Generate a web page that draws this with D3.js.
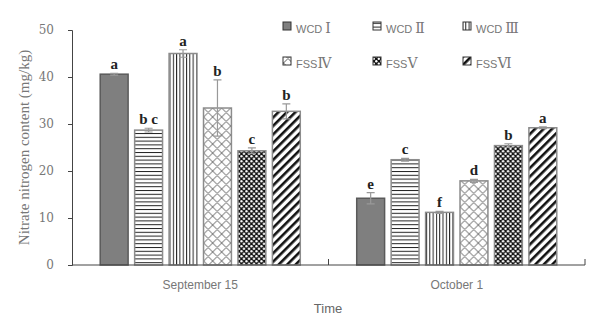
<!DOCTYPE html>
<html>
<head>
<meta charset="utf-8">
<script src="https://cdn.jsdelivr.net/npm/d3@7"></script>
<style>
  body { margin: 0; background: #fff; }
  svg { display: block; }
</style>
</head>
<body>
<script>
// chart data
var dates = ['September 15', 'October 1'];
var treatments = ['WCD \u2160', 'WCD \u2161', 'WCD \u2162', 'FSS\u2163', 'FSS\u2164', 'FSS\u2165'];
var values = [
    [40.6, 28.7, 45.0, 33.4, 24.3, 32.7],
    [14.2, 22.4, 11.2, 17.9, 25.4, 29.2]
];
var errors = [
    [0.2, 0.4, 0.8, 6.0, 0.6, 1.6],
    [1.2, 0.3, 0.2, 0.3, 0.4, 0.2]
];
var letters = [
    ['a', 'b c', 'a', 'b', 'c', 'b'],
    ['e', 'c', 'f', 'd', 'b', 'a']
];
var yTicks = [0, 10, 20, 30, 40, 50];

var width = 589, height = 316;
// plot area (window.top is reserved, so use own names)
var pLeft = 72, pRight = 585, pTop = 30, pBottom = 265;

var svg = d3.select('body').append('svg')
    .attr('width', width)
    .attr('height', height);

// patterns for the bars
var defs = svg.append('defs');

var p = defs.append('pattern').attr('id', 'p1')
    .attr('patternUnits', 'userSpaceOnUse').attr('width', 8).attr('height', 3.8);
p.append('rect').attr('width', 8).attr('height', 3.8).attr('fill', '#fff');
p.append('rect').attr('y', 0).attr('width', 8).attr('height', 1).attr('fill', '#222');

p = defs.append('pattern').attr('id', 'p2')
    .attr('patternUnits', 'userSpaceOnUse').attr('width', 3.3).attr('height', 8);
p.append('rect').attr('width', 3.3).attr('height', 8).attr('fill', '#fff');
p.append('rect').attr('x', 0).attr('width', 1).attr('height', 8).attr('fill', '#222');

p = defs.append('pattern').attr('id', 'p3')
    .attr('patternUnits', 'userSpaceOnUse').attr('width', 9).attr('height', 9);
p.append('rect').attr('width', 9).attr('height', 9).attr('fill', '#fff');
p.append('path').attr('d', 'M0,4.5 L4.5,0 L9,4.5 M0,4.5 L4.5,9 L9,4.5 M4.5,0 L9,-4.5 M4.5,9 L0,13.5')
    .attr('stroke', '#333').attr('stroke-width', 0.8).attr('fill', 'none');

p = defs.append('pattern').attr('id', 'p4')
    .attr('patternUnits', 'userSpaceOnUse').attr('width', 5).attr('height', 5);
p.append('rect').attr('width', 5).attr('height', 5).attr('fill', '#111');
p.append('circle').attr('cx', 1.3).attr('cy', 1.3).attr('r', 1.2).attr('fill', '#fff');
p.append('circle').attr('cx', 3.8).attr('cy', 3.8).attr('r', 1.2).attr('fill', '#fff');

p = defs.append('pattern').attr('id', 'p5')
    .attr('patternUnits', 'userSpaceOnUse').attr('width', 6).attr('height', 6)
    .attr('patternTransform', 'rotate(45)');
p.append('rect').attr('width', 6).attr('height', 6).attr('fill', '#fff');
p.append('rect').attr('width', 2.6).attr('height', 6).attr('fill', '#111');

var fills = ['#7f7f7f', 'url(#p1)', 'url(#p2)', 'url(#p3)', 'url(#p4)', 'url(#p5)'];

// scales
var x0 = d3.scaleBand().domain(dates).range([pLeft, pRight]).paddingInner(0).paddingOuter(0);
var groupPad = 0.11;
var x1 = d3.scaleBand().domain(treatments)
    .range([0, x0.bandwidth() * (1 - 2 * groupPad)])
    .paddingInner(0.19).paddingOuter(0);
var y = d3.scaleLinear().domain([0, 50]).range([pBottom, pTop]);

// y axis
var yAxis = svg.append('g')
    .attr('transform', 'translate(' + pLeft + ',0)')
    .call(d3.axisLeft(y).tickValues(yTicks).tickSize(4).tickPadding(14));
yAxis.select('.domain').attr('stroke', '#444');
yAxis.selectAll('.tick line').attr('stroke', '#444');
yAxis.selectAll('.tick text')
    .attr('fill', '#777')
    .style('font-family', '"DejaVu Serif", serif')
    .style('font-size', '12px');

svg.append('text')
    .attr('transform', 'translate(29,' + ((pTop + pBottom) / 2) + ') rotate(-90)')
    .attr('text-anchor', 'middle')
    .attr('fill', '#777')
    .style('font-family', '"Liberation Serif", serif')
    .style('font-size', '15px')
    .text('Nitrate nitrogen content (mg/kg)');

// bars
var groups = svg.selectAll('.grp')
    .data(dates)
    .enter().append('g')
    .attr('class', 'grp')
    .attr('transform', function(d) {
        return 'translate(' + (x0(d) + x0.bandwidth() * groupPad) + ',0)';
    });

groups.each(function(date, gi) {
    var g = d3.select(this);
    treatments.forEach(function(t, i) {
        var v = values[gi][i], e = errors[gi][i];
        var bx = x1(t), bw = x1.bandwidth();
        g.append('rect')
            .attr('x', bx).attr('y', y(v))
            .attr('width', bw).attr('height', y(0) - y(v))
            .attr('fill', fills[i])
            .attr('stroke', i === 0 ? '#5a5a5a' : '#8c8c8c')
            .attr('stroke-width', 1.5);
        // error bar
        var cx = bx + bw / 2;
        g.append('path')
            .attr('d', 'M' + cx + ',' + y(v - e) + 'V' + y(v + e) +
                'M' + (cx - 4) + ',' + y(v + e) + 'H' + (cx + 4) +
                'M' + (cx - 4) + ',' + y(v - e) + 'H' + (cx + 4))
            .attr('stroke', '#999').attr('stroke-width', 1.2).attr('fill', 'none');
        g.append('text')
            .attr('x', cx).attr('y', y(v + e) - 4)
            .attr('text-anchor', 'middle')
            .style('font-family', '"Liberation Serif", serif')
            .style('font-size', '15px')
            .style('font-weight', 'bold')
            .attr('fill', '#222')
            .text(letters[gi][i]);
    });
});

// x axis
svg.append('line')
    .attr('x1', pLeft).attr('x2', pRight).attr('y1', pBottom).attr('y2', pBottom)
    .attr('stroke', '#444');
[x0(dates[1]), pRight].forEach(function(tx) {
    svg.append('line')
        .attr('x1', tx).attr('x2', tx).attr('y1', pBottom).attr('y2', pBottom - 6)
        .attr('stroke', '#444');
});
svg.selectAll('.xlab')
    .data(dates)
    .enter().append('text')
    .attr('x', function(d) { return x0(d) + x0.bandwidth() / 2; })
    .attr('y', 289)
    .attr('text-anchor', 'middle')
    .attr('fill', '#777')
    .style('font-family', '"Liberation Sans", sans-serif')
    .style('font-size', '12px')
    .text(function(d) { return d; });

svg.append('text')
    .attr('x', 328).attr('y', 313)
    .attr('text-anchor', 'middle')
    .attr('fill', '#666')
    .style('font-family', '"Liberation Sans", sans-serif')
    .style('font-size', '13px')
    .text('Time');

// legend
var legend = svg.append('g');
treatments.forEach(function(t, i) {
    var lx = 283 + (i % 3) * 90, ly = 22 + Math.floor(i / 3) * 35;
    legend.append('rect')
        .attr('x', lx).attr('y', ly)
        .attr('width', 8).attr('height', 8)
        .attr('fill', fills[i])
        .attr('stroke', '#333').attr('stroke-width', 1);
    var parts = t.split(/(?=[\u2160-\u2169])/);
    var txt = legend.append('text')
        .attr('x', lx + 13).attr('y', ly + 11)
        .attr('fill', '#777');
    txt.append('tspan')
        .style('font-family', '"Liberation Sans", sans-serif')
        .style('font-size', '11px')
        .text(parts[0]);
    txt.append('tspan')
        .style('font-family', '"DejaVu Serif", serif')
        .style('font-size', '14px')
        .text(parts[1]);
});
</script>
</body>
</html>
